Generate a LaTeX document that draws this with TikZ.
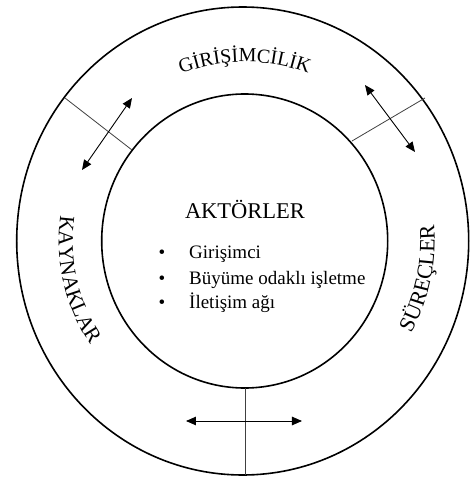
\documentclass[tikz,border=0pt]{standalone}
\usepackage{fontspec}
\setmainfont{Liberation Serif}
\usetikzlibrary{arrows.meta, decorations.text}
\tikzset{
    ringline/.style={draw=black, line width=1.6pt},
    divline/.style={draw=black!75, line width=0.8pt},
    twoway/.style={{Triangle[length=10pt,width=8.5pt]}-{Triangle[length=10pt,width=8.5pt]}, line width=0.9pt},
    headtext/.style={anchor=base, font=\fontsize{22.5}{26}\selectfont, inner sep=0pt},
    itemtext/.style={anchor=base west, font=\fontsize{19}{22}\selectfont, inner sep=0pt},
    itemdot/.style={anchor=base, font=\fontsize{19}{22}\selectfont, inner sep=0pt},
}

\begin{document}
\begin{tikzpicture}[x=1pt, y=1pt]
\useasboundingbox (-244.7,-236) rectangle (224.3,241);
% rings
\draw[ringline] (-2,0) ellipse [x radius=226, y radius=234];
\draw[ringline] (0,0) ellipse [x radius=143, y radius=147];
% dividers
\coordinate (ulIn) at (-112.7,91);
\coordinate (ulOut) at (-179.7,143);
\coordinate (urIn) at (107.3,100);
\coordinate (urOut) at (180.3,143);
\coordinate (btIn) at (0.3,-147);
\coordinate (btOut) at (0.3,-234);
\draw[divline] (ulIn) -- (ulOut);
\draw[divline] (urIn) -- (urOut);
\draw[divline] (btIn) -- (btOut);
% two-way arrows
\coordinate (ulA) at (-162.7,71);
\coordinate (ulB) at (-112.7,143);
\coordinate (urA) at (120.3,156);
\coordinate (urB) at (170.3,89);
\coordinate (btA) at (-58.7,-180);
\coordinate (btB) at (57.3,-180);
\draw[twoway] (ulA) -- (ulB);
\draw[twoway] (urA) -- (urB);
\draw[twoway] (btA) -- (btB);
% ring labels
\path[decorate, decoration={text along path, text align=center,
  text={|\fontsize{20}{22}\selectfont|GİRİŞİMCİLİK}}]
  (150:179pt) arc[start angle=150, end angle=30, radius=179pt];
\path[decorate, decoration={text along path, text align=center,
  text={|\fontsize{21.5}{24}\selectfont|KAYNAKLAR}}]
  (148:186pt) arc[start angle=148, end angle=238, radius=186pt];
\path[decorate, decoration={text along path, text align=center,
  text={|\fontsize{22}{24}\selectfont|SÜREÇLER}}]
  (-45:190pt) arc[start angle=-45, end angle=21, radius=190pt];
% centre
\node[headtext] (akt) at (0.3,23) {AKTÖRLER};
\node[itemdot] (d1) at (-82.7,-17) {\textbullet};
\node[itemdot] (d2) at (-82.7,-43) {\textbullet};
\node[itemdot] (d3) at (-82.7,-67.5) {\textbullet};
\node[itemtext] (i1) at (-55.7,-17) {Girişimci};
\node[itemtext] (i2) at (-55.7,-43) {Büyüme odaklı işletme};
\node[itemtext] (i3) at (-55.7,-67.5) {İletişim ağı};
\end{tikzpicture}
\end{document}
